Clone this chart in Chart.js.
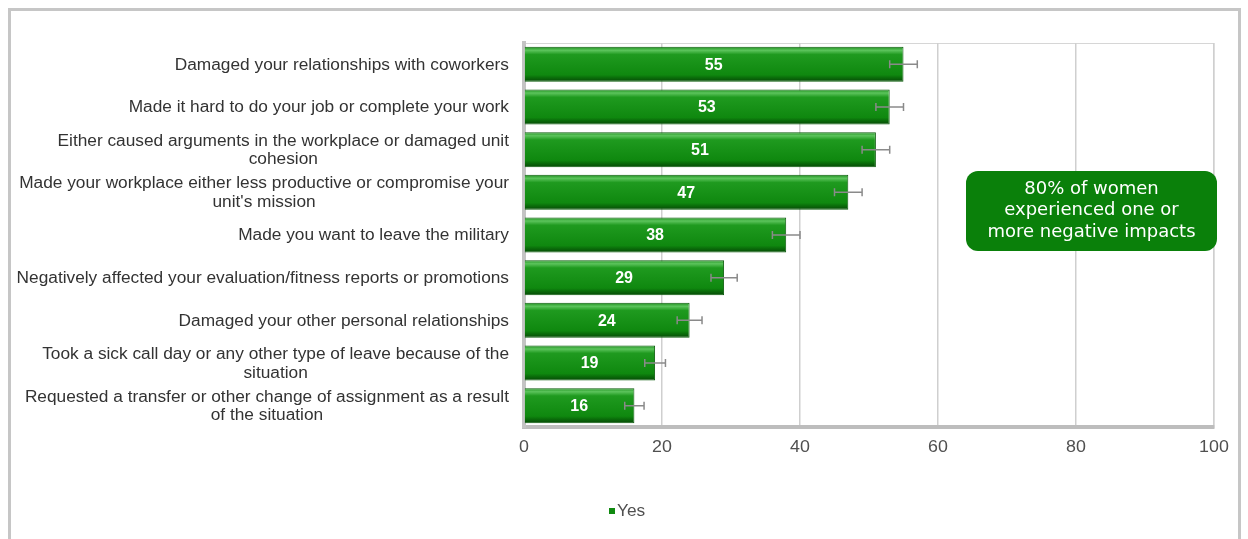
<!DOCTYPE html>
<html>
<head>
<meta charset="utf-8">
<script src="https://cdn.jsdelivr.net/npm/chart.js@4.4.1/dist/chart.umd.min.js"></script>
<style>
  html, body { margin: 0; padding: 0; background: #fff; }
  #wrap { position: relative; width: 1248px; height: 539px; }
</style>
</head>
<body>
<div id="wrap"><canvas id="impactChart" width="1248" height="539"></canvas></div>
<script>
// Chart data
const categories = [
  ["Damaged your relationships with coworkers"],
  ["Made it hard to do your job or complete your work"],
  ["Either caused arguments in the workplace or damaged unit", "cohesion"],
  ["Made your workplace either less productive or compromise your", "unit's mission"],
  ["Made you want to leave the military"],
  ["Negatively affected your evaluation/fitness reports or promotions"],
  ["Damaged your other personal relationships"],
  ["Took a sick call day or any other type of leave because of the", "situation"],
  ["Requested a transfer or other change of assignment as a result", "of the situation"],
];
const yesValues = [55, 53, 51, 47, 38, 29, 24, 19, 16];
const errorMargins = [2, 2, 2, 2, 2, 1.9, 1.8, 1.5, 1.4];
const xTicks = [0, 20, 40, 60, 80, 100];
const calloutLines = ["80% of women", "experienced one or", "more negative impacts"];

const GREEN = "#108a10";
const FONT = "'Liberation Sans', Arial, sans-serif";
const CALLOUT_FONT = "'DejaVu Sans', Verdana, sans-serif";

// text drawn a little wider than Arial, like the original renderer
function wideText(ctx, text, x, y, sx) {
  ctx.save();
  ctx.translate(x, y);
  ctx.scale(sx, 1);
  ctx.fillText(text, 0, 0);
  ctx.restore();
}

// Frame, plot box, category labels, error bars, value labels, callout, legend
const decorPlugin = {
  id: "decor",
  beforeDraw(chart) {
    const ctx = chart.ctx;
    ctx.save();
    ctx.fillStyle = "#fff";
    ctx.fillRect(0, 0, chart.width, chart.height);
    ctx.strokeStyle = "#c6c6c6";
    ctx.lineWidth = 3;
    ctx.strokeRect(9.5, 9.5, 1230, 560);
    const a = chart.chartArea;
    ctx.strokeStyle = "#d6d6d6";
    ctx.lineWidth = 1;
    ctx.strokeRect(a.left, a.top + 0.5, a.right - a.left, a.bottom - a.top);
    ctx.restore();
  },
  afterDraw(chart) {
    const ctx = chart.ctx;
    const a = chart.chartArea;
    const xs = chart.scales.x;
    const ys = chart.scales.y;
    ctx.save();

    // category labels: block right-aligned, lines centred to each other
    const sx = 1.08;
    ctx.font = "16px " + FONT;
    ctx.fillStyle = "#333";
    ctx.textBaseline = "middle";
    ctx.textAlign = "center";
    categories.forEach((lines, i) => {
      const y = ys.getPixelForTick(i);
      const w = Math.max(...lines.map((l) => ctx.measureText(l).width)) * sx;
      const cx = a.left - 15 - w / 2;
      const lh = 18.5;
      lines.forEach((l, j) => {
        wideText(ctx, l, cx, y + 1 + (j - (lines.length - 1) / 2) * lh, sx);
      });
    });

    // x tick labels
    ctx.font = "17px " + FONT;
    ctx.fillStyle = "#505050";
    xTicks.forEach((v) => {
      wideText(ctx, String(v), xs.getPixelForValue(v), 447, 1.05);
    });

    // error bars and value labels
    const meta = chart.getDatasetMeta(0);
    meta.data.forEach((bar, i) => {
      const v = yesValues[i];
      const e = errorMargins[i];
      const x1 = xs.getPixelForValue(v - e);
      const x2 = xs.getPixelForValue(v + e);
      ctx.strokeStyle = "#8a8a8a";
      ctx.lineWidth = 1.5;
      ctx.beginPath();
      ctx.moveTo(x1, bar.y);
      ctx.lineTo(x2, bar.y);
      ctx.moveTo(x1, bar.y - 4);
      ctx.lineTo(x1, bar.y + 4);
      ctx.moveTo(x2, bar.y - 4);
      ctx.lineTo(x2, bar.y + 4);
      ctx.stroke();

      ctx.fillStyle = "#fff";
      ctx.font = "bold 16px " + FONT;
      ctx.fillText(String(v), xs.getPixelForValue(v / 2), bar.y + 1);
    });

    // callout box
    const bx = 966, by = 171, bw = 251, bh = 80;
    ctx.fillStyle = "#0a800a";
    ctx.beginPath();
    ctx.roundRect(bx, by, bw, bh, 12);
    ctx.fill();
    ctx.fillStyle = "#fff";
    ctx.font = "18px " + CALLOUT_FONT;
    calloutLines.forEach((l, j) => {
      ctx.fillText(l, bx + bw / 2, by + 18 + j * 21.5);
    });

    // legend
    ctx.fillStyle = GREEN;
    ctx.fillRect(609, 508, 6, 6);
    ctx.fillStyle = "#505050";
    ctx.font = "16px " + FONT;
    ctx.textAlign = "left";
    wideText(ctx, chart.data.datasets[0].label, 617, 512, 1.08);
    ctx.restore();
  },
};

function barFill(context) {
  const chart = context.chart;
  const a = chart.chartArea;
  if (!a) return GREEN;
  const ys = chart.scales.y;
  const yc = ys.getPixelForValue(context.dataIndex);
  const half = (ys.getPixelForValue(1) - ys.getPixelForValue(0)) * 0.82 / 2;
  const g = chart.ctx.createLinearGradient(0, yc - half, 0, yc + half);
  g.addColorStop(0, "#1c8f1c");
  g.addColorStop(0.1, "#5cc45c");
  g.addColorStop(0.22, "#1f9a1f");
  g.addColorStop(0.8, "#0f880f");
  g.addColorStop(0.88, "#0a6e0a");
  g.addColorStop(1, "#064806");
  return g;
}

new Chart(document.getElementById("impactChart"), {
  type: "bar",
  data: {
    labels: categories,
    datasets: [
      {
        label: "Yes",
        data: yesValues,
        backgroundColor: barFill,
        borderColor: "#0b5c0b",
        borderWidth: 1,
        borderSkipped: "start",
        barPercentage: 0.82,
        categoryPercentage: 1,
      },
    ],
  },
  options: {
    indexAxis: "y",
    responsive: false,
    animation: false,
    layout: {
      padding: { left: 0, right: 34, top: 43, bottom: 82 },
    },
    plugins: {
      legend: { display: false },
      tooltip: { enabled: false },
    },
    scales: {
      x: {
        min: 0,
        max: 100,
        afterBuildTicks: (scale) => {
          scale.ticks = xTicks.map((v) => ({ value: v }));
        },
        afterFit: (scale) => {
          scale.height = 30;
        },
        grid: {
          color: "#cfcfcf",
          lineWidth: 1.5,
          drawTicks: false,
        },
        border: { color: "#bdbdbd", width: 4 },
        ticks: { display: false },
      },
      y: {
        afterFit: (scale) => {
          scale.width = 524;
        },
        grid: { display: false },
        border: { color: "#c4c4c4", width: 4 },
        ticks: { display: false },
      },
    },
  },
  plugins: [decorPlugin],
});
</script>
</body>
</html>
